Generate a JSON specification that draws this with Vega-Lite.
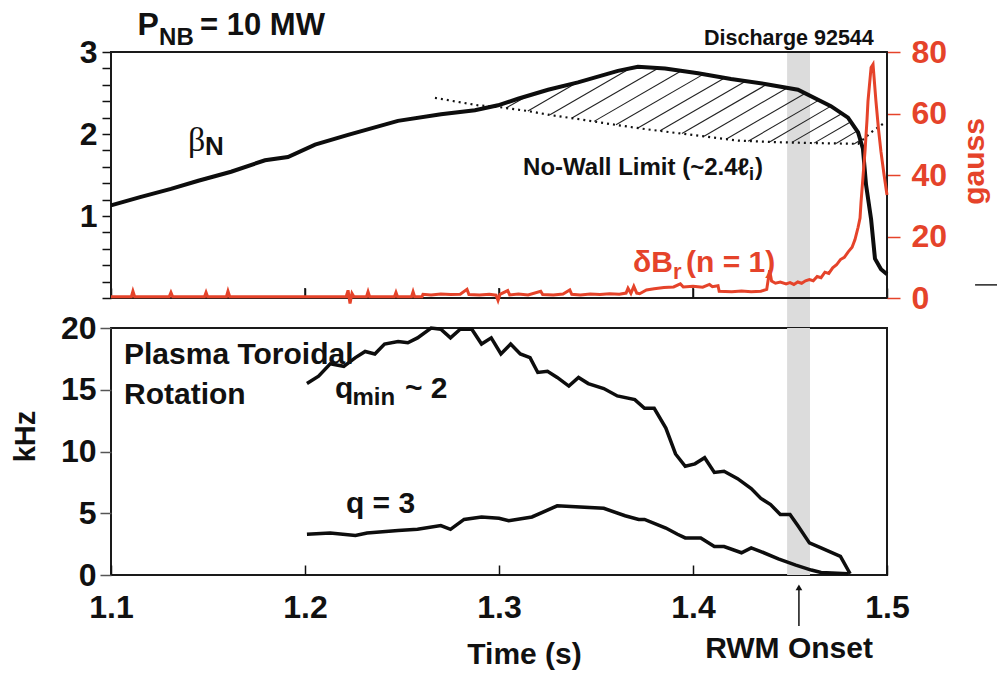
{
  "$schema": "https://vega.github.io/schema/vega-lite/v6.json",
  "background": "white",
  "padding": {"left": 10, "top": 8, "right": 5, "bottom": 5},
  "bounds": "flush",
  "spacing": 30,
  "config": {
    "font": "Liberation Sans",
    "view": {"stroke": "#1a1a1a", "strokeWidth": 2},
    "axis": {"grid": false, "domain": false, "labelFont": "Liberation Sans", "labelFontWeight": "bold", "labelFontSize": 32, "labelColor": "#111", "tickColor": "#222", "tickWidth": 1.5, "labelOverlap": false, "labelFlush": false, "titleFont": "Liberation Sans", "titleFontWeight": "bold", "titleFontSize": 30, "titleColor": "#111"},
    "text": {"font": "Liberation Sans", "fontWeight": "bold", "align": "left", "baseline": "alphabetic", "color": "#111"}
  },
  "datasets": {
    "one": [{"n": 1}],
    "frame": [
      {"t1": 1.1, "t2": 1.5, "b1": 3, "b2": 3},
      {"t1": 1.1, "t2": 1.5, "b1": 0, "b2": 0},
      {"t1": 1.1, "t2": 1.1, "b1": 0, "b2": 3},
      {"t1": 1.5, "t2": 1.5, "b1": 0, "b2": 3}
    ],
    "beta": [
      {"t": 1.1, "b": 1.13}, {"t": 1.115, "b": 1.23}, {"t": 1.1309, "b": 1.33}, {"t": 1.145, "b": 1.43}, {"t": 1.1619, "b": 1.54},
      {"t": 1.1794, "b": 1.68}, {"t": 1.1912, "b": 1.72}, {"t": 1.2052, "b": 1.87}, {"t": 1.2222, "b": 1.99}, {"t": 1.2479, "b": 2.16},
      {"t": 1.2701, "b": 2.24}, {"t": 1.2876, "b": 2.29}, {"t": 1.2995, "b": 2.35}, {"t": 1.3098, "b": 2.43}, {"t": 1.3253, "b": 2.54},
      {"t": 1.3407, "b": 2.63}, {"t": 1.3613, "b": 2.77}, {"t": 1.3716, "b": 2.82}, {"t": 1.3856, "b": 2.8}, {"t": 1.4026, "b": 2.74},
      {"t": 1.4196, "b": 2.67}, {"t": 1.4371, "b": 2.61}, {"t": 1.4541, "b": 2.54}, {"t": 1.4711, "b": 2.34}, {"t": 1.4799, "b": 2.2},
      {"t": 1.4851, "b": 2.02}, {"t": 1.4876, "b": 1.82}, {"t": 1.4892, "b": 1.38}, {"t": 1.4918, "b": 0.96}, {"t": 1.4938, "b": 0.48},
      {"t": 1.4969, "b": 0.35}, {"t": 1.5, "b": 0.29}
    ],
    "limit": [
      {"t": 1.267, "b": 2.44}, {"t": 1.2892, "b": 2.35}, {"t": 1.2995, "b": 2.33}, {"t": 1.3149, "b": 2.28}, {"t": 1.3268, "b": 2.23},
      {"t": 1.3443, "b": 2.17}, {"t": 1.3577, "b": 2.12}, {"t": 1.3753, "b": 2.06}, {"t": 1.3923, "b": 2.01}, {"t": 1.4093, "b": 1.96},
      {"t": 1.4232, "b": 1.92}, {"t": 1.4438, "b": 1.9}, {"t": 1.4608, "b": 1.89}, {"t": 1.4851, "b": 1.88}, {"t": 1.4918, "b": 2.02},
      {"t": 1.4995, "b": 2.15}
    ],
    "hatch": [
      {"t1": 1.3036, "b1": 2.316, "t2": 1.3139, "b2": 2.455},
      {"t1": 1.3149, "b1": 2.28, "t2": 1.3407, "b2": 2.634},
      {"t1": 1.3263, "b1": 2.234, "t2": 1.3675, "b2": 2.798},
      {"t1": 1.3376, "b1": 2.194, "t2": 1.3825, "b2": 2.807},
      {"t1": 1.349, "b1": 2.154, "t2": 1.3943, "b2": 2.774},
      {"t1": 1.3603, "b1": 2.113, "t2": 1.4057, "b2": 2.733},
      {"t1": 1.3716, "b1": 2.073, "t2": 1.4165, "b2": 2.685},
      {"t1": 1.383, "b1": 2.039, "t2": 1.4273, "b2": 2.646},
      {"t1": 1.3943, "b1": 2.006, "t2": 1.4381, "b2": 2.606},
      {"t1": 1.4057, "b1": 1.973, "t2": 1.4485, "b2": 2.561},
      {"t1": 1.417, "b1": 1.937, "t2": 1.4577, "b2": 2.495},
      {"t1": 1.4284, "b1": 1.911, "t2": 1.4649, "b2": 2.413},
      {"t1": 1.4397, "b1": 1.905, "t2": 1.4711, "b2": 2.34},
      {"t1": 1.451, "b1": 1.898, "t2": 1.4768, "b2": 2.249},
      {"t1": 1.4624, "b1": 1.889, "t2": 1.4814, "b2": 2.149},
      {"t1": 1.4737, "b1": 1.884, "t2": 1.4845, "b2": 2.035},
      {"t1": 1.483, "b1": 1.878, "t2": 1.4866, "b2": 1.929}
    ],
    "red": [
      {"t": 1.1, "g": 0.4}, {"t": 1.1105, "g": 0.4}, {"t": 1.1113, "g": 2.2}, {"t": 1.1122, "g": 0.4},
      {"t": 1.13, "g": 0.4}, {"t": 1.1309, "g": 1.8}, {"t": 1.1318, "g": 0.4},
      {"t": 1.1482, "g": 0.4}, {"t": 1.149, "g": 1.8}, {"t": 1.1498, "g": 0.4},
      {"t": 1.1595, "g": 0.4}, {"t": 1.1603, "g": 2.2}, {"t": 1.1612, "g": 0.4},
      {"t": 1.2212, "g": 0.4}, {"t": 1.2222, "g": 2.5}, {"t": 1.2232, "g": -1.8}, {"t": 1.2242, "g": 1.5}, {"t": 1.2252, "g": 0.4},
      {"t": 1.2317, "g": 0.4}, {"t": 1.2325, "g": 2.0}, {"t": 1.2333, "g": 0.4},
      {"t": 1.2461, "g": 0.4}, {"t": 1.2469, "g": 1.8}, {"t": 1.2477, "g": 0.4},
      {"t": 1.2549, "g": 0.4}, {"t": 1.2557, "g": 2.0}, {"t": 1.2565, "g": 0.4},
      {"t": 1.2603, "g": 0.4}, {"t": 1.2608, "g": 1.2}, {"t": 1.265, "g": 1.0}, {"t": 1.27, "g": 1.3}, {"t": 1.275, "g": 1.1},
      {"t": 1.28, "g": 1.2}, {"t": 1.2835, "g": 2.8}, {"t": 1.2845, "g": 1.1}, {"t": 1.29, "g": 1.0}, {"t": 1.295, "g": 1.2},
      {"t": 1.2985, "g": 0.9}, {"t": 1.2995, "g": -0.8}, {"t": 1.3005, "g": 1.2}, {"t": 1.3045, "g": 2.4}, {"t": 1.3055, "g": 1.0},
      {"t": 1.31, "g": 1.3}, {"t": 1.315, "g": 1.0}, {"t": 1.3215, "g": 2.2}, {"t": 1.3225, "g": 1.1}, {"t": 1.328, "g": 1.0},
      {"t": 1.333, "g": 1.3}, {"t": 1.3365, "g": 2.6}, {"t": 1.3375, "g": 1.2}, {"t": 1.342, "g": 1.0}, {"t": 1.347, "g": 1.3},
      {"t": 1.352, "g": 1.1}, {"t": 1.357, "g": 1.4}, {"t": 1.362, "g": 1.2}, {"t": 1.3655, "g": 1.6}, {"t": 1.3665, "g": 3.2},
      {"t": 1.368, "g": 1.5}, {"t": 1.3695, "g": 3.8}, {"t": 1.371, "g": 1.6}, {"t": 1.3725, "g": 1.4}, {"t": 1.376, "g": 2.6},
      {"t": 1.38, "g": 3.0}, {"t": 1.385, "g": 3.4}, {"t": 1.39, "g": 3.6}, {"t": 1.3935, "g": 4.6}, {"t": 1.395, "g": 3.6},
      {"t": 1.4, "g": 3.8}, {"t": 1.405, "g": 3.5}, {"t": 1.4085, "g": 4.4}, {"t": 1.41, "g": 3.7}, {"t": 1.4129, "g": 4.0},
      {"t": 1.4135, "g": 2.2}, {"t": 1.42, "g": 2.0}, {"t": 1.425, "g": 2.3}, {"t": 1.43, "g": 2.0}, {"t": 1.435, "g": 2.2},
      {"t": 1.438, "g": 2.8}, {"t": 1.4395, "g": 9.0}, {"t": 1.4405, "g": 5.5}, {"t": 1.4425, "g": 4.8}, {"t": 1.445, "g": 5.2},
      {"t": 1.448, "g": 4.6}, {"t": 1.45, "g": 5.0}, {"t": 1.452, "g": 4.4}, {"t": 1.454, "g": 5.2}, {"t": 1.456, "g": 4.8},
      {"t": 1.458, "g": 5.6}, {"t": 1.46, "g": 6.0}, {"t": 1.462, "g": 5.6}, {"t": 1.464, "g": 7.0}, {"t": 1.466, "g": 6.6},
      {"t": 1.468, "g": 8.4}, {"t": 1.47, "g": 8.0}, {"t": 1.472, "g": 9.8}, {"t": 1.474, "g": 10.8}, {"t": 1.476, "g": 12.5},
      {"t": 1.478, "g": 13.2}, {"t": 1.48, "g": 15.0}, {"t": 1.482, "g": 16.5}, {"t": 1.4835, "g": 19.0}, {"t": 1.4851, "g": 23.0},
      {"t": 1.4861, "g": 26.0}, {"t": 1.4866, "g": 31.0}, {"t": 1.4877, "g": 40.0}, {"t": 1.4887, "g": 48.0}, {"t": 1.4897, "g": 58.0},
      {"t": 1.4902, "g": 64.0}, {"t": 1.4918, "g": 75.0}, {"t": 1.4928, "g": 76.0}, {"t": 1.4943, "g": 64.0}, {"t": 1.4956, "g": 55.0},
      {"t": 1.4969, "g": 47.5}, {"t": 1.4985, "g": 40.0}, {"t": 1.5, "g": 33.5}
    ],
    "rot": [
      {"s": "qmin", "t": 1.201, "k": 15.5}, {"s": "qmin", "t": 1.207, "k": 16.1}, {"s": "qmin", "t": 1.213, "k": 17.1}, {"s": "qmin", "t": 1.22, "k": 16.9},
      {"s": "qmin", "t": 1.226, "k": 17.6}, {"s": "qmin", "t": 1.231, "k": 18.1}, {"s": "qmin", "t": 1.236, "k": 17.9}, {"s": "qmin", "t": 1.241, "k": 18.7},
      {"s": "qmin", "t": 1.248, "k": 18.9}, {"s": "qmin", "t": 1.253, "k": 18.8}, {"s": "qmin", "t": 1.258, "k": 19.2}, {"s": "qmin", "t": 1.265, "k": 20.0},
      {"s": "qmin", "t": 1.27, "k": 19.9}, {"s": "qmin", "t": 1.275, "k": 19.2}, {"s": "qmin", "t": 1.28, "k": 19.9}, {"s": "qmin", "t": 1.286, "k": 19.9},
      {"s": "qmin", "t": 1.291, "k": 18.7}, {"s": "qmin", "t": 1.296, "k": 19.2}, {"s": "qmin", "t": 1.301, "k": 17.9}, {"s": "qmin", "t": 1.306, "k": 18.7},
      {"s": "qmin", "t": 1.311, "k": 17.9}, {"s": "qmin", "t": 1.316, "k": 17.6}, {"s": "qmin", "t": 1.32, "k": 16.4}, {"s": "qmin", "t": 1.325, "k": 16.5},
      {"s": "qmin", "t": 1.33, "k": 16.0}, {"s": "qmin", "t": 1.336, "k": 15.3}, {"s": "qmin", "t": 1.341, "k": 16.0}, {"s": "qmin", "t": 1.346, "k": 15.5},
      {"s": "qmin", "t": 1.354, "k": 15.1}, {"s": "qmin", "t": 1.361, "k": 14.5}, {"s": "qmin", "t": 1.37, "k": 14.2}, {"s": "qmin", "t": 1.375, "k": 13.5},
      {"s": "qmin", "t": 1.38, "k": 13.5}, {"s": "qmin", "t": 1.386, "k": 11.9}, {"s": "qmin", "t": 1.391, "k": 9.8}, {"s": "qmin", "t": 1.396, "k": 8.8},
      {"s": "qmin", "t": 1.401, "k": 9.0}, {"s": "qmin", "t": 1.406, "k": 9.5}, {"s": "qmin", "t": 1.411, "k": 8.3}, {"s": "qmin", "t": 1.416, "k": 8.4},
      {"s": "qmin", "t": 1.423, "k": 7.8}, {"s": "qmin", "t": 1.43, "k": 7.0}, {"s": "qmin", "t": 1.435, "k": 6.2}, {"s": "qmin", "t": 1.44, "k": 5.7},
      {"s": "qmin", "t": 1.445, "k": 4.9}, {"s": "qmin", "t": 1.45, "k": 4.9}, {"s": "qmin", "t": 1.454, "k": 4.0}, {"s": "qmin", "t": 1.46, "k": 2.6},
      {"s": "qmin", "t": 1.466, "k": 2.2}, {"s": "qmin", "t": 1.476, "k": 1.5}, {"s": "qmin", "t": 1.481, "k": 0.1},
      {"s": "q3", "t": 1.201, "k": 3.3}, {"s": "q3", "t": 1.213, "k": 3.4}, {"s": "q3", "t": 1.226, "k": 3.2}, {"s": "q3", "t": 1.232, "k": 3.4},
      {"s": "q3", "t": 1.248, "k": 3.6}, {"s": "q3", "t": 1.258, "k": 3.7}, {"s": "q3", "t": 1.27, "k": 4.0}, {"s": "q3", "t": 1.275, "k": 3.7},
      {"s": "q3", "t": 1.282, "k": 4.5}, {"s": "q3", "t": 1.291, "k": 4.7}, {"s": "q3", "t": 1.3, "k": 4.6}, {"s": "q3", "t": 1.305, "k": 4.4},
      {"s": "q3", "t": 1.317, "k": 4.7}, {"s": "q3", "t": 1.33, "k": 5.6}, {"s": "q3", "t": 1.354, "k": 5.4}, {"s": "q3", "t": 1.365, "k": 4.8},
      {"s": "q3", "t": 1.372, "k": 4.5}, {"s": "q3", "t": 1.375, "k": 4.5}, {"s": "q3", "t": 1.386, "k": 3.8}, {"s": "q3", "t": 1.392, "k": 3.3},
      {"s": "q3", "t": 1.396, "k": 3.0}, {"s": "q3", "t": 1.404, "k": 3.0}, {"s": "q3", "t": 1.411, "k": 2.3}, {"s": "q3", "t": 1.416, "k": 2.3},
      {"s": "q3", "t": 1.425, "k": 1.8}, {"s": "q3", "t": 1.43, "k": 2.2}, {"s": "q3", "t": 1.435, "k": 1.9}, {"s": "q3", "t": 1.444, "k": 1.3},
      {"s": "q3", "t": 1.453, "k": 0.8}, {"s": "q3", "t": 1.461, "k": 0.4}, {"s": "q3", "t": 1.466, "k": 0.2}, {"s": "q3", "t": 1.48, "k": 0.1}
    ]
  },
  "vconcat": [
    {
      "width": 776,
      "height": 246,
      "view": {"stroke": "#1a1a1a", "strokeWidth": 2},
      "resolve": {"scale": {"y": "independent"}},
      "layer": [
        {
          "data": {"name": "beta"},
          "mark": {"type": "line", "color": "#0d0d0d", "strokeWidth": 4, "opacity": 0},
          "encoding": {
            "x": {"field": "t", "type": "quantitative", "scale": {"domain": [1.1, 1.5], "nice": false, "zero": false},
                  "axis": {"values": [1.1, 1.2, 1.3, 1.4, 1.5], "labels": false, "tickSize": -10, "title": null, "tickColor": "#111"}},
            "y": {"field": "b", "type": "quantitative", "scale": {"domain": [0, 3], "nice": false},
                  "axis": {"values": [0, 0.2, 0.4, 0.6, 0.8, 1, 1.2, 1.4, 1.6, 1.8, 2, 2.2, 2.4, 2.6, 2.8, 3],
                           "labelExpr": "datum.value == 1 ? '1' : (datum.value == 2 ? '2' : (datum.value == 3 ? '3' : ''))",
                           "tickSize": 9, "labelPadding": 5, "title": null, "tickColor": "#111"}}
          }
        },
        {
          "data": {"name": "one"},
          "mark": {"type": "rect", "color": "#dcdcdc"},
          "encoding": {
            "x": {"datum": 1.4485, "type": "quantitative"},
            "x2": {"datum": 1.4603},
            "y": {"datum": 3, "type": "quantitative", "scale": {"domain": [0, 3], "nice": false}, "axis": null},
            "y2": {"datum": -0.378}
          }
        },
        {
          "data": {"name": "frame"},
          "mark": {"type": "rule", "color": "#1a1a1a", "strokeWidth": 2},
          "encoding": {
            "x": {"field": "t1", "type": "quantitative", "title": null},
            "x2": {"field": "t2"},
            "y": {"field": "b1", "type": "quantitative", "scale": {"domain": [0, 3], "nice": false}, "axis": null},
            "y2": {"field": "b2"}
          }
        },
        {"data": {"name": "one"}, "mark": {"type": "rule", "color": "#111", "strokeWidth": 1.5}, "encoding": {"x": {"datum": 1.2, "type": "quantitative"}, "y": {"datum": 0, "type": "quantitative", "scale": {"domain": [0, 3], "nice": false}, "axis": null}, "y2": {"datum": 0.122}}},
        {"data": {"name": "one"}, "mark": {"type": "rule", "color": "#111", "strokeWidth": 1.5}, "encoding": {"x": {"datum": 1.3, "type": "quantitative"}, "y": {"datum": 0, "type": "quantitative", "scale": {"domain": [0, 3], "nice": false}, "axis": null}, "y2": {"datum": 0.122}}},
        {"data": {"name": "one"}, "mark": {"type": "rule", "color": "#111", "strokeWidth": 1.5}, "encoding": {"x": {"datum": 1.4, "type": "quantitative"}, "y": {"datum": 0, "type": "quantitative", "scale": {"domain": [0, 3], "nice": false}, "axis": null}, "y2": {"datum": 0.122}}},
        {
          "data": {"name": "hatch"},
          "mark": {"type": "rule", "color": "#222", "strokeWidth": 1.1},
          "encoding": {
            "x": {"field": "t1", "type": "quantitative", "title": null},
            "x2": {"field": "t2"},
            "y": {"field": "b1", "type": "quantitative", "scale": {"domain": [0, 3], "nice": false}, "axis": null},
            "y2": {"field": "b2"}
          }
        },
        {
          "data": {"name": "limit"},
          "mark": {"type": "line", "color": "#111", "strokeWidth": 2.2, "strokeDash": [2, 4]},
          "encoding": {
            "x": {"field": "t", "type": "quantitative", "title": null},
            "y": {"field": "b", "type": "quantitative", "scale": {"domain": [0, 3], "nice": false}, "axis": null}
          }
        },
        {
          "data": {"name": "beta"},
          "mark": {"type": "line", "color": "#0d0d0d", "strokeWidth": 4},
          "encoding": {
            "x": {"field": "t", "type": "quantitative", "title": null},
            "y": {"field": "b", "type": "quantitative", "scale": {"domain": [0, 3], "nice": false}, "axis": null}
          }
        },
        {
          "data": {"name": "red"},
          "mark": {"type": "line", "color": "#e5432a", "strokeWidth": 3},
          "encoding": {
            "x": {"field": "t", "type": "quantitative", "title": null},
            "y": {"field": "g", "type": "quantitative", "scale": {"domain": [0, 80], "nice": false},
                  "axis": {"orient": "right", "values": [0, 20, 40, 60, 80], "tickSize": 13, "tickColor": "#e5432a", "labelColor": "#e5432a",
                           "labelPadding": 11, "title": "gauss", "titleColor": "#e5432a", "titleFontWeight": "bold", "titleFontSize": 30,
                           "titleAngle": 270, "titleX": 87, "titleY": 109, "titleAlign": "center", "titleBaseline": "middle"}}
          }
        },
        {"data": {"name": "one"}, "mark": {"type": "rule", "color": "#222", "strokeWidth": 1.5}, "encoding": {"x": {"datum": 1.5454, "type": "quantitative"}, "x2": {"datum": 1.5567}, "y": {"datum": 0.16, "type": "quantitative", "scale": {"domain": [0, 3], "nice": false}, "axis": null}}},
        {"data": {"name": "one"}, "mark": {"type": "text", "text": "P", "fontSize": 32}, "encoding": {"x": {"datum": 1.1137, "type": "quantitative"}, "y": {"datum": 3.207, "type": "quantitative", "scale": {"domain": [0, 3], "nice": false}, "axis": null}}},
        {"data": {"name": "one"}, "mark": {"type": "text", "text": "NB", "fontSize": 24}, "encoding": {"x": {"datum": 1.1248, "type": "quantitative"}, "y": {"datum": 3.085, "type": "quantitative", "scale": {"domain": [0, 3], "nice": false}, "axis": null}}},
        {"data": {"name": "one"}, "mark": {"type": "text", "text": "= 10 MW", "fontSize": 31}, "encoding": {"x": {"datum": 1.1459, "type": "quantitative"}, "y": {"datum": 3.207, "type": "quantitative", "scale": {"domain": [0, 3], "nice": false}, "axis": null}}},
        {"data": {"name": "one"}, "mark": {"type": "text", "text": "Discharge 92544", "fontSize": 21.5}, "encoding": {"x": {"datum": 1.4057, "type": "quantitative"}, "y": {"datum": 3.085, "type": "quantitative", "scale": {"domain": [0, 3], "nice": false}, "axis": null}}},
        {"data": {"name": "one"}, "mark": {"type": "text", "text": "β", "fontSize": 34, "font": "Liberation Serif", "fontWeight": "normal"}, "encoding": {"x": {"datum": 1.1397, "type": "quantitative"}, "y": {"datum": 1.793, "type": "quantitative", "scale": {"domain": [0, 3], "nice": false}, "axis": null}}},
        {"data": {"name": "one"}, "mark": {"type": "text", "text": "N", "fontSize": 26}, "encoding": {"x": {"datum": 1.1485, "type": "quantitative"}, "y": {"datum": 1.744, "type": "quantitative", "scale": {"domain": [0, 3], "nice": false}, "axis": null}}},
        {"data": {"name": "one"}, "mark": {"type": "text", "text": "No-Wall Limit (~2.4ℓ", "fontSize": 24}, "encoding": {"x": {"datum": 1.3124, "type": "quantitative"}, "y": {"datum": 1.5, "type": "quantitative", "scale": {"domain": [0, 3], "nice": false}, "axis": null}}},
        {"data": {"name": "one"}, "mark": {"type": "text", "text": "i", "fontSize": 18}, "encoding": {"x": {"datum": 1.4289, "type": "quantitative"}, "y": {"datum": 1.44, "type": "quantitative", "scale": {"domain": [0, 3], "nice": false}, "axis": null}}},
        {"data": {"name": "one"}, "mark": {"type": "text", "text": ")", "fontSize": 24}, "encoding": {"x": {"datum": 1.432, "type": "quantitative"}, "y": {"datum": 1.5, "type": "quantitative", "scale": {"domain": [0, 3], "nice": false}, "axis": null}}},
        {"data": {"name": "one"}, "mark": {"type": "text", "text": "δB", "fontSize": 30, "color": "#e5432a"}, "encoding": {"x": {"datum": 1.3691, "type": "quantitative"}, "y": {"datum": 0.317, "type": "quantitative", "scale": {"domain": [0, 3], "nice": false}, "axis": null}}},
        {"data": {"name": "one"}, "mark": {"type": "text", "text": "r", "fontSize": 22, "color": "#e5432a"}, "encoding": {"x": {"datum": 1.3897, "type": "quantitative"}, "y": {"datum": 0.23, "type": "quantitative", "scale": {"domain": [0, 3], "nice": false}, "axis": null}}},
        {"data": {"name": "one"}, "mark": {"type": "text", "text": "(n = 1)", "fontSize": 30, "color": "#e5432a"}, "encoding": {"x": {"datum": 1.3964, "type": "quantitative"}, "y": {"datum": 0.317, "type": "quantitative", "scale": {"domain": [0, 3], "nice": false}, "axis": null}}}
      ]
    },
    {
      "width": 776,
      "height": 247,
      "layer": [
        {
          "data": {"name": "one"},
          "mark": {"type": "rect", "color": "#dcdcdc"},
          "encoding": {
            "x": {"datum": 1.4485, "type": "quantitative"},
            "x2": {"datum": 1.4603},
            "y": {"datum": 20, "type": "quantitative"},
            "y2": {"datum": 0}
          }
        },
        {
          "data": {"name": "rot"},
          "mark": {"type": "line", "color": "#0d0d0d", "strokeWidth": 3.5},
          "encoding": {
            "detail": {"field": "s"},
            "x": {"field": "t", "type": "quantitative", "scale": {"domain": [1.1, 1.5], "nice": false, "zero": false},
                  "axis": {"values": [1.1, 1.2, 1.3, 1.4, 1.5], "format": ".1f", "tickSize": -10, "tickColor": "#111", "labelPadding": 27,
                           "title": "Time (s)", "titleX": 413, "titleY": 88, "titleAlign": "center", "titleBaseline": "alphabetic"}},
            "y": {"field": "k", "type": "quantitative", "scale": {"domain": [0, 20], "nice": false},
                  "axis": {"values": [0, 5, 10, 15, 20], "tickSize": 11, "labelPadding": 4, "tickColor": "#555",
                           "title": "kHz", "titleFontSize": 29, "titleAngle": 270,
                           "titleX": -86, "titleY": 108, "titleAlign": "center", "titleBaseline": "middle"}}
          }
        },
        {"data": {"name": "one"}, "mark": {"type": "text", "text": "Plasma Toroidal", "fontSize": 30}, "encoding": {"x": {"datum": 1.1067, "type": "quantitative"}, "y": {"datum": 17.09, "type": "quantitative"}}},
        {"data": {"name": "one"}, "mark": {"type": "text", "text": "Rotation", "fontSize": 30}, "encoding": {"x": {"datum": 1.1067, "type": "quantitative"}, "y": {"datum": 13.85, "type": "quantitative"}}},
        {"data": {"name": "one"}, "mark": {"type": "text", "text": "q", "fontSize": 30}, "encoding": {"x": {"datum": 1.2155, "type": "quantitative"}, "y": {"datum": 14.33, "type": "quantitative"}}},
        {"data": {"name": "one"}, "mark": {"type": "text", "text": "min", "fontSize": 24}, "encoding": {"x": {"datum": 1.2245, "type": "quantitative"}, "y": {"datum": 13.75, "type": "quantitative"}}},
        {"data": {"name": "one"}, "mark": {"type": "text", "text": "~ 2", "fontSize": 30}, "encoding": {"x": {"datum": 1.2515, "type": "quantitative"}, "y": {"datum": 14.33, "type": "quantitative"}}},
        {"data": {"name": "one"}, "mark": {"type": "text", "text": "q = 3", "fontSize": 30}, "encoding": {"x": {"datum": 1.2211, "type": "quantitative"}, "y": {"datum": 5.02, "type": "quantitative"}}},
        {"data": {"name": "one"}, "mark": {"type": "text", "text": "RWM Onset", "fontSize": 30, "align": "center"}, "encoding": {"x": {"datum": 1.4495, "type": "quantitative"}, "y": {"datum": -6.72, "type": "quantitative"}}},
        {"data": {"name": "one"}, "mark": {"type": "rule", "color": "#111", "strokeWidth": 1.5}, "encoding": {"x": {"datum": 1.4546, "type": "quantitative"}, "y": {"datum": -1.2, "type": "quantitative"}, "y2": {"datum": -4.13}}},
        {"data": {"name": "one"}, "mark": {"type": "point", "shape": "triangle-up", "filled": true, "color": "#111", "size": 45, "opacity": 1}, "encoding": {"x": {"datum": 1.4546, "type": "quantitative"}, "y": {"datum": -1.0, "type": "quantitative"}}}
      ]
    }
  ]
}
